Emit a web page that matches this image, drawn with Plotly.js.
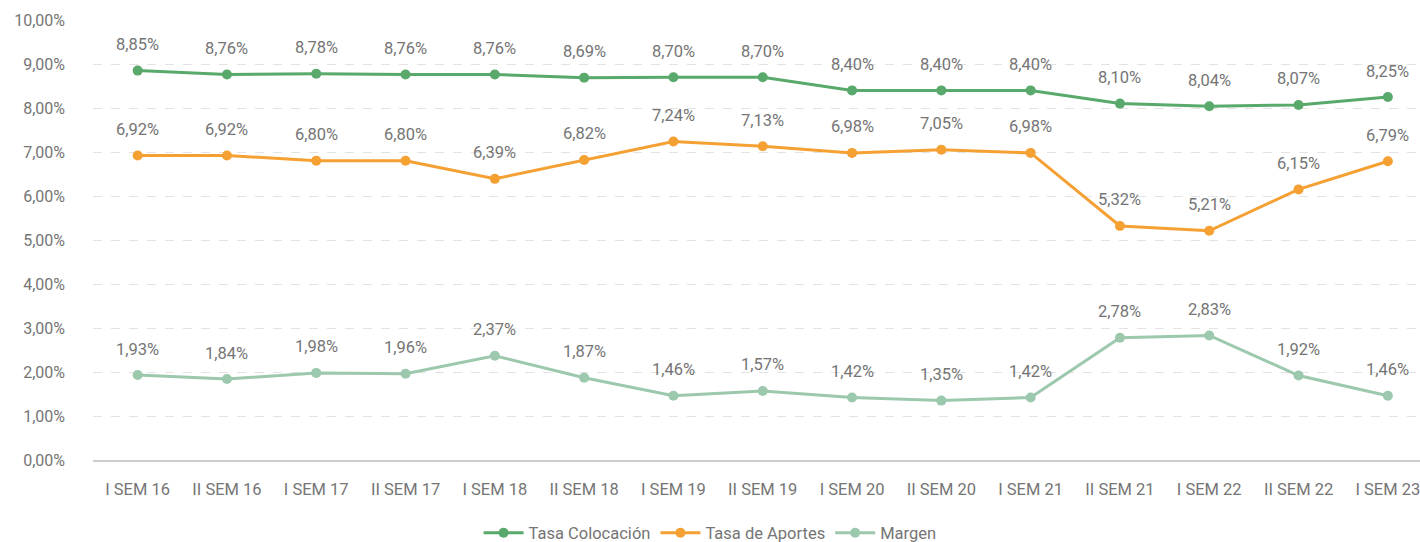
<!DOCTYPE html>
<html><head><meta charset="utf-8">
<script src="https://cdn.plot.ly/plotly-3.0.1.min.js"></script>
<style>html,body{margin:0;padding:0;background:#fff}#chart{width:1420px;height:542px}</style>
</head><body><div id="chart"></div>
<script>
const categories = ["I SEM 16","II SEM 16","I SEM 17","II SEM 17","I SEM 18","II SEM 18","I SEM 19","II SEM 19","I SEM 20","II SEM 20","I SEM 21","II SEM 21","I SEM 22","II SEM 22","I SEM 23"];
const tasaColocacion = [8.85,8.76,8.78,8.76,8.76,8.69,8.70,8.70,8.40,8.40,8.40,8.10,8.04,8.07,8.25];
const tasaAportes = [6.92,6.92,6.80,6.80,6.39,6.82,7.24,7.13,6.98,7.05,6.98,5.32,5.21,6.15,6.79];
const margen = [1.93,1.84,1.98,1.96,2.37,1.87,1.46,1.57,1.42,1.35,1.42,2.78,2.83,1.92,1.46];
const yTickValues = [0,1,2,3,4,5,6,7,8,9,10];
const seriesNames = ["Tasa Colocación","Tasa de Aportes","Margen"];
const colors = ["#58a96b","#f5a033","#9cc8ad"];
const fmt = v => v.toFixed(2).replace('.', ',') + '%';
const allSeries = [tasaColocacion, tasaAportes, margen];
const traces = allSeries.map((s,i)=>({
  x: categories, y: s, name: seriesNames[i], type:'scatter', mode:'lines+markers',
  line:{color:colors[i], width:3}, marker:{color:colors[i], size:10},
  cliponaxis:false, hoverinfo:'none'
}));
const annotations = [];
allSeries.forEach((s,i)=>s.forEach((v,j)=>annotations.push({
  x: categories[j], y: v, xref:'x', yref:'y', text: fmt(v), showarrow:false,
  yshift: 26, font:{family:'Roboto', size:16.5, color:'#757575'}
})));
const layout = {
  width:1420, height:542, paper_bgcolor:'#fff', plot_bgcolor:'#fff',
  margin:{l:93, r:0, t:20, b:82, autoexpand:false},
  font:{family:'Roboto', color:'#757575', size:16},
  showlegend:true,
  legend:{orientation:'h', x:0.465, xanchor:'center', y:-0.166, yanchor:'middle', itemwidth:40,
    font:{size:16.5, color:'#757575'}},
  xaxis:{type:'category', range:[-0.5, 14.36], showgrid:false, showline:true, linecolor:'#cccccc', linewidth:2,
    ticks:'', tickfont:{size:16.5, color:'#757575'}, ticklabelstandoff:13, fixedrange:true},
  yaxis:{range:[0,10], tickmode:'array', tickvals:yTickValues, ticktext:yTickValues.map(fmt),
    showgrid:true, gridcolor:'#e3e3e3', griddash:'dash', gridwidth:1, zeroline:false, showline:false,
    tickfont:{size:16, color:'#757575'}, ticklabelstandoff:27, fixedrange:true},
  annotations: annotations
};
Plotly.newPlot('chart', traces, layout, {displayModeBar:false, staticPlot:true});
</script></body></html>
